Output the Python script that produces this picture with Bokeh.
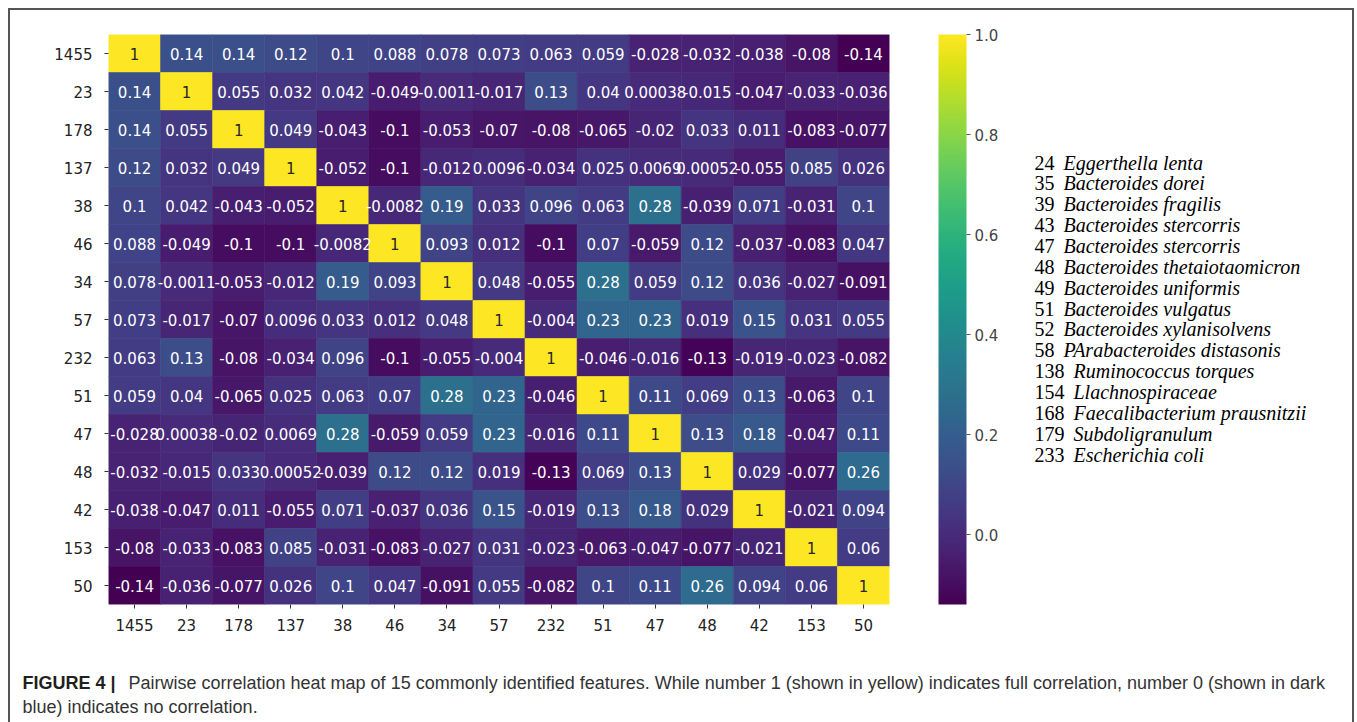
from bokeh.plotting import figure
from bokeh.layouts import row, column
from bokeh.models import (ColumnDataSource, LinearColorMapper, ColorBar, FixedTicker,
                          PrintfTickFormatter, FactorRange, Label, Range1d)
from bokeh.transform import transform
from bokeh.core.properties import value
from bokeh.palettes import Viridis256
from bokeh.embed import file_html
from bokeh.resources import INLINE

labels = ["1455", "23", "178", "137", "38", "46", "34", "57", "232", "51", "47", "48", "42", "153", "50"]

r_1455 = [1, 0.14, 0.14, 0.12, 0.1, 0.088, 0.078, 0.073, 0.063, 0.059, -0.028, -0.032, -0.038, -0.08, -0.14]
r_23 = [0.14, 1, 0.055, 0.032, 0.042, -0.049, -0.0011, -0.017, 0.13, 0.04, 0.00038, -0.015, -0.047, -0.033, -0.036]
r_178 = [0.14, 0.055, 1, 0.049, -0.043, -0.1, -0.053, -0.07, -0.08, -0.065, -0.02, 0.033, 0.011, -0.083, -0.077]
r_137 = [0.12, 0.032, 0.049, 1, -0.052, -0.1, -0.012, 0.0096, -0.034, 0.025, 0.0069, 0.00052, -0.055, 0.085, 0.026]
r_38 = [0.1, 0.042, -0.043, -0.052, 1, -0.0082, 0.19, 0.033, 0.096, 0.063, 0.28, -0.039, 0.071, -0.031, 0.1]
r_46 = [0.088, -0.049, -0.1, -0.1, -0.0082, 1, 0.093, 0.012, -0.1, 0.07, -0.059, 0.12, -0.037, -0.083, 0.047]
r_34 = [0.078, -0.0011, -0.053, -0.012, 0.19, 0.093, 1, 0.048, -0.055, 0.28, 0.059, 0.12, 0.036, -0.027, -0.091]
r_57 = [0.073, -0.017, -0.07, 0.0096, 0.033, 0.012, 0.048, 1, -0.004, 0.23, 0.23, 0.019, 0.15, 0.031, 0.055]
r_232 = [0.063, 0.13, -0.08, -0.034, 0.096, -0.1, -0.055, -0.004, 1, -0.046, -0.016, -0.13, -0.019, -0.023, -0.082]
r_51 = [0.059, 0.04, -0.065, 0.025, 0.063, 0.07, 0.28, 0.23, -0.046, 1, 0.11, 0.069, 0.13, -0.063, 0.1]
r_47 = [-0.028, 0.00038, -0.02, 0.0069, 0.28, -0.059, 0.059, 0.23, -0.016, 0.11, 1, 0.13, 0.18, -0.047, 0.11]
r_48 = [-0.032, -0.015, 0.033, 0.00052, -0.039, 0.12, 0.12, 0.019, -0.13, 0.069, 0.13, 1, 0.029, -0.077, 0.26]
r_42 = [-0.038, -0.047, 0.011, -0.055, 0.071, -0.037, 0.036, 0.15, -0.019, 0.13, 0.18, 0.029, 1, -0.021, 0.094]
r_153 = [-0.08, -0.033, -0.083, 0.085, -0.031, -0.083, -0.027, 0.031, -0.023, -0.063, -0.047, -0.077, -0.021, 1, 0.06]
r_50 = [-0.14, -0.036, -0.077, 0.026, 0.1, 0.047, -0.091, 0.055, -0.082, 0.1, 0.11, 0.26, 0.094, 0.06, 1]

rows = [r_1455, r_23, r_178, r_137, r_38, r_46, r_34, r_57, r_232, r_51, r_47, r_48, r_42, r_153, r_50]

cb_ticks = [0.0, 0.2, 0.4, 0.6, 0.8, 1.0]

legend_ids = ["24", "35", "39", "43", "47", "48", "49", "51", "52", "58", "138", "154", "168", "179", "233"]
legend_names = ["Eggerthella lenta", "Bacteroides dorei", "Bacteroides fragilis",
                "Bacteroides stercorris", "Bacteroides stercorris", "Bacteroides  thetaiotaomicron",
                "Bacteroides uniformis", "Bacteroides vulgatus", "Bacteroides  xylanisolvens",
                "PArabacteroides distasonis", "Ruminococcus torques", "Llachnospiraceae",
                "Faecalibacterium prausnitzii", "Subdoligranulum", "Escherichia coli"]

caption_bold = "FIGURE 4 |"
caption_line1 = ("Pairwise correlation heat map of 15 commonly identified features. While number 1 "
                 "(shown in yellow) indicates full correlation, number 0 (shown in dark")
caption_line2 = "blue) indicates no correlation."

# ---- build table ----
xs, ys, vs, txt, tcol = [], [], [], [], []
for i, rl in enumerate(labels):
    for j, cl in enumerate(labels):
        v = rows[i][j]
        xs.append(cl)
        ys.append(rl)
        vs.append(v)
        txt.append("{:.2g}".format(v))
        tcol.append("#262626" if v > 0.5 else "white")
src = ColumnDataSource(dict(x=xs, y=ys, v=vs, t=txt, c=tcol))

vmin = min(min(r) for r in rows)
mapper = LinearColorMapper(palette=Viridis256, low=vmin, high=1.0)

# page geometry (absolute canvas px)
OX, OY = 10, 10          # content origin inside the border
MAIN_R = 1025            # right edge of main figure
TOP_H = 630              # height of top row
CONTENT_R = 1352
FL, FT, FR, FB = 108, 34, 889, 604   # heatmap frame

p = figure(width=MAIN_R - OX, height=TOP_H,
           x_range=FactorRange(*labels), y_range=FactorRange(*labels[::-1]),
           output_backend="svg", toolbar_location=None,
           min_border_left=FL - OX, min_border_top=FT - OY,
           min_border_right=MAIN_R - FR, min_border_bottom=OY + TOP_H - FB)
p.outline_line_color = None
p.grid.grid_line_color = None
p.background_fill_color = "white"
p.border_fill_color = "white"

p.rect(x="x", y="y", width=1, height=1, source=src,
       fill_color=transform("v", mapper), line_color=transform("v", mapper), line_width=0.6)
p.text(x="x", y="y", text="t", source=src, text_color="c",
       text_font=value("DejaVu Sans"), text_font_size="15px",
       text_align="center", text_baseline="middle")

for ax in (p.xaxis[0], p.yaxis[0]):
    ax.axis_line_color = None
    ax.major_tick_in = 0
    ax.major_tick_out = 4
    ax.major_tick_line_color = "#333333"
    ax.major_label_text_font = "DejaVu Sans"
    ax.major_label_text_font_size = "15px"
    ax.major_label_text_color = "#222222"
    ax.minor_tick_line_color = None
p.yaxis[0].major_label_standoff = 12
p.xaxis[0].major_label_standoff = 10

cb = ColorBar(color_mapper=mapper, ticker=FixedTicker(ticks=cb_ticks),
              formatter=PrintfTickFormatter(format="%.1f"),
              width=28, height=FB - FT, padding=0, margin=0, location=(938 - FL, 0),
              major_tick_in=0, major_tick_out=4, major_tick_line_color="#555555",
              major_label_text_font="DejaVu Sans", major_label_text_font_size="15px",
              major_label_text_color="#444444", label_standoff=4,
              bar_line_color=None, border_line_color=None, background_fill_color=None)
p.add_layout(cb, "center")


def blank(w, h):
    f = figure(width=w, height=h, x_range=Range1d(0, 1), y_range=Range1d(0, 1),
               output_backend="svg", toolbar_location=None,
               x_axis_location=None, y_axis_location=None, min_border=0)
    f.outline_line_color = None
    f.grid.grid_line_color = None
    f.background_fill_color = "white"
    f.border_fill_color = "white"
    return f


# legend figure
pl = blank(CONTENT_R - MAIN_R, TOP_H)
LB = OY + TOP_H - 35  # effective bottom of legend frame (absolute)
fs = 20
for k, (num, name) in enumerate(zip(legend_ids, legend_names)):
    yc = 163 + k * 20.86
    pl.add_layout(Label(x=1034 - MAIN_R, y=LB - yc, x_units="screen", y_units="screen",
                        text=num, text_font="Liberation Serif", text_font_size=f"{fs}px",
                        text_baseline="middle", text_color="black"))
    pl.add_layout(Label(x=1034 - MAIN_R + len(num) * 0.5 * fs + 0.45 * fs, y=LB - yc,
                        x_units="screen", y_units="screen",
                        text=name, text_font="Liberation Serif", text_font_size=f"{fs}px",
                        text_font_style="italic", text_baseline="middle", text_color="black"))

# caption figure
pc = blank(CONTENT_R - OX, 722 - OY - TOP_H)
cfs = 18
pc.add_layout(Label(x=22 - OX, y=722 - 682, x_units="screen", y_units="screen",
                    text=caption_bold, text_font="Liberation Sans", text_font_size=f"{cfs}px",
                    text_font_style="bold", text_baseline="middle", text_color="#231f20"))
pc.add_layout(Label(x=128 - OX, y=722 - 682, x_units="screen", y_units="screen",
                    text=caption_line1, text_font="Liberation Sans", text_font_size=f"{cfs}px",
                    text_baseline="middle", text_color="#333333"))
pc.add_layout(Label(x=22 - OX, y=722 - 706, x_units="screen", y_units="screen",
                    text=caption_line2, text_font="Liberation Sans", text_font_size=f"{cfs}px",
                    text_baseline="middle", text_color="#333333"))

layout = column(row(p, pl, spacing=0), pc, spacing=0,
                margin=(8, 0, 0, 8),
                styles={"border-top": "2px solid #555555",
                        "border-left": "2px solid #555555",
                        "border-right": "2px solid #555555"})

open("out.html", "w").write(file_html(layout, INLINE))
